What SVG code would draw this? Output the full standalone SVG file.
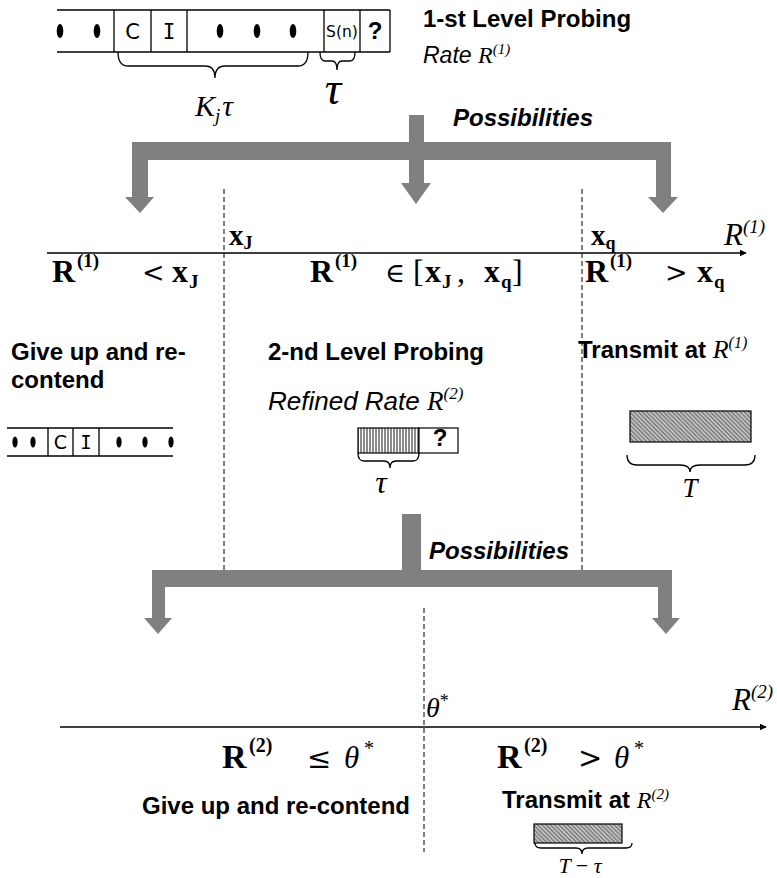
<svg xmlns="http://www.w3.org/2000/svg" width="777" height="878" viewBox="0 0 777 878">
<style>
.lbl{font-family:"Liberation Sans",Arial,sans-serif;font-weight:bold;font-size:24px;fill:#000}
.it{font-family:"Liberation Sans",Arial,sans-serif;font-style:italic;fill:#000}
.poss{font-family:"Liberation Sans",Arial,sans-serif;font-weight:bold;font-style:italic;font-size:24px;fill:#000}
.ser{font-family:"Liberation Serif","Times New Roman",serif;fill:#000}
.sit{font-family:"Liberation Serif","Times New Roman",serif;font-style:italic;fill:#000}
.mb{font-family:"Liberation Serif","Times New Roman",serif;font-weight:bold;fill:#000}
.nw{font-weight:normal}
.rel{font-family:"DejaVu Serif","Liberation Serif",serif;font-weight:normal}
.cell{font-family:"DejaVu Sans",Verdana,sans-serif;fill:#000}
.ln{stroke:#000;stroke-width:1.3;fill:none}
.dash{stroke:#000;stroke-width:1;stroke-dasharray:5 3;fill:none}
.brace{stroke:#000;stroke-width:1.3;fill:none}
.garrow{fill:#808080}
.axis{stroke:#000;stroke-width:1.5;fill:none;marker-end:url(#ah)}
</style>
<defs>
<marker id="ah" viewBox="0 0 10 10" refX="9" refY="5" markerWidth="7" markerHeight="7" markerUnits="userSpaceOnUse" orient="auto"><path d="M0 0 L10 5 L0 10 Z" fill="#000"/></marker>
<pattern id="vh" width="3" height="10" patternUnits="userSpaceOnUse"><rect width="3" height="10" fill="#fff"/><line x1="1" y1="0" x2="1" y2="10" stroke="#000" stroke-width="0.9"/></pattern>
<pattern id="dh" width="3" height="10" patternUnits="userSpaceOnUse" patternTransform="rotate(-45)"><rect width="3" height="10" fill="#d8d8d8"/><line x1="1" y1="0" x2="1" y2="10" stroke="#444" stroke-width="1.1"/></pattern>
</defs>
<rect width="777" height="878" fill="#fff"/>

<g id="connectors">
<path class="garrow" d="M409 115 L424 115 L424 142 L671 142 L671 197 L678 197 L663 213 L648 197 L656 197 L656 160 L424 160 L424 183 L431 183 L416 204 L401 183 L409 183 L409 160 L148 160 L148 197 L154 197 L140 213 L125 197 L132 197 L132 142 L409 142 Z"/>
<path class="garrow" d="M402 514 L421 514 L421 570 L672 570 L672 618 L680 618 L666 634 L652 618 L658 618 L658 587 L165 587 L165 618 L172 618 L158 634 L144 618 L152 618 L152 570 L402 570 Z"/>
<line class="dash" x1="224" y1="189" x2="224" y2="570"/>
<line class="dash" x1="582" y1="189" x2="582" y2="570"/>
<line class="dash" x1="424" y1="608" x2="424" y2="852"/>
<line class="axis" x1="47" y1="253" x2="746" y2="253"/>
<line class="axis" x1="60" y1="727" x2="766" y2="727"/>
</g>

<g id="top-sequence">
<line class="ln" x1="57" y1="10" x2="390" y2="10"/>
<line class="ln" x1="57" y1="52" x2="390" y2="52"/>
<line class="ln" x1="114" y1="10" x2="114" y2="52"/>
<line class="ln" x1="151" y1="10" x2="151" y2="52"/>
<line class="ln" x1="187" y1="10" x2="187" y2="52"/>
<line class="ln" x1="324" y1="10" x2="324" y2="52" stroke-width="2.2"/>
<line class="ln" x1="360" y1="10" x2="360" y2="52"/>
<line class="ln" x1="390" y1="10" x2="390" y2="52"/>
<ellipse cx="60" cy="31" rx="3.3" ry="7"/>
<ellipse cx="97" cy="31" rx="3.3" ry="7"/>
<ellipse cx="220" cy="31" rx="3.3" ry="7"/>
<ellipse cx="257" cy="31" rx="3.3" ry="7"/>
<ellipse cx="293" cy="31" rx="3.3" ry="7"/>
<text class="cell" x="132.5" y="39" font-size="21" text-anchor="middle">C</text>
<text x="169" y="39" font-size="21" text-anchor="middle" font-family="DejaVu Sans Mono,monospace">I</text>
<text class="cell" x="342" y="37" font-size="15.5" text-anchor="middle">S(n)</text>
<text class="lbl" x="375" y="39" font-size="21" text-anchor="middle">?</text>
<path class="brace" d="M118 52 Q118 66 128 66 L205 66 Q215 66 215 78 Q215 66 225 66 L298 66 Q308 66 308 52"/>
<path class="brace" d="M320 52 Q320 61 325 61 L332 61 Q337 61 337 70 Q337 61 342 61 L350 61 Q355 61 355 52"/>
<text class="sit" x="195" y="116" font-size="30">K<tspan font-size="19" dy="6">j</tspan><tspan dy="-6" dx="2">τ</tspan></text>
<text class="sit" x="333" y="104" font-size="46" text-anchor="middle">τ</text>
</g>

<g id="level1">
<text class="lbl" x="423" y="27">1-st Level Probing</text>
<text class="it" x="423" y="63" font-size="23">Rate <tspan class="sit" font-size="24">R</tspan><tspan class="sit" font-size="15" dy="-9">(1)</tspan></text>
<text class="poss" x="453" y="126">Possibilities</text>
</g>

<g id="axis1-labels">
<text class="mb" x="229" y="245" font-size="29">x<tspan font-size="18" dy="4">J</tspan></text>
<text class="mb" x="591" y="245" font-size="29">x<tspan font-size="18" dy="4">q</tspan></text>
<text class="sit" x="724" y="245" font-size="31">R<tspan font-size="19" dy="-12">(1)</tspan></text>
</g>

<g id="cond1">
<text class="mb" font-size="32" y="282"><tspan x="52">R</tspan><tspan x="77" y="267" font-size="19">(1)</tspan><tspan x="142" y="282" class="rel" font-size="27">&lt;</tspan><tspan x="172" y="282">x</tspan><tspan x="189" y="288" font-size="19">J</tspan></text>
<text class="mb" font-size="32" y="282"><tspan x="310">R</tspan><tspan x="335" y="267" font-size="19">(1)</tspan><tspan x="385" y="282" class="rel" font-size="27">∈</tspan><tspan x="413" y="282" class="nw">[</tspan><tspan x="425" y="282">x</tspan><tspan x="442" y="288" font-size="19">J</tspan><tspan x="457" y="282" class="nw">,</tspan><tspan x="484" y="282">x</tspan><tspan x="501" y="288" font-size="19">q</tspan><tspan x="512" y="282" class="nw">]</tspan></text>
<text class="mb" font-size="32" y="282"><tspan x="585">R</tspan><tspan x="610" y="267" font-size="19">(1)</tspan><tspan x="665" y="282" class="rel" font-size="27">&gt;</tspan><tspan x="697" y="282">x</tspan><tspan x="714" y="288" font-size="19">q</tspan></text>
</g>

<g id="giveup1">
<text class="lbl" x="11" y="360">Give up and re-</text>
<text class="lbl" x="11" y="388">contend</text>
<line class="ln" x1="7" y1="428" x2="173" y2="428"/>
<line class="ln" x1="7" y1="456" x2="173" y2="456"/>
<line class="ln" x1="48" y1="428" x2="48" y2="456"/>
<line class="ln" x1="73" y1="428" x2="73" y2="456"/>
<line class="ln" x1="99" y1="428" x2="99" y2="456"/>
<ellipse cx="15" cy="442" rx="2.6" ry="5.5"/>
<ellipse cx="33" cy="442" rx="2.6" ry="5.5"/>
<ellipse cx="119" cy="442" rx="2.6" ry="5.5"/>
<ellipse cx="145" cy="442" rx="2.6" ry="5.5"/>
<ellipse cx="171" cy="442" rx="2.6" ry="5.5"/>
<text class="cell" x="60.5" y="449" font-size="19" text-anchor="middle">C</text>
<text x="86" y="449" font-size="19" text-anchor="middle" font-family="DejaVu Sans Mono,monospace">I</text>
</g>

<g id="level2">
<text class="lbl" x="268" y="360">2-nd Level Probing</text>
<text class="it" x="268" y="410" font-size="26">Refined Rate <tspan class="sit" font-size="27">R</tspan><tspan class="sit" font-size="17" dy="-11">(2)</tspan></text>
<rect x="358" y="428" width="61" height="25" fill="url(#vh)" stroke="#000" stroke-width="1.2"/>
<rect x="419" y="428" width="39" height="25" fill="#fff" stroke="#000" stroke-width="1.2"/>
<text class="lbl" x="440" y="446" font-size="17" text-anchor="middle">?</text>
<path class="brace" d="M358 453 Q358 461 364 461 L384 461 Q390 461 390 468 Q390 461 396 461 L413 461 Q419 461 419 453"/>
<text class="sit" x="381" y="493" font-size="32" text-anchor="middle">τ</text>
</g>

<g id="transmit1">
<text class="lbl" x="578" y="358">Transmit at <tspan class="sit nw" font-size="26">R</tspan><tspan class="sit nw" font-size="16" dy="-10">(1)</tspan></text>
<rect x="630" y="411" width="121" height="31" fill="url(#dh)" stroke="#000" stroke-width="1.2"/>
<path class="brace" d="M627 455 Q627 465 637 465 L680 465 Q690 465 690 472 Q690 465 700 465 L745 465 Q755 465 755 455"/>
<text class="sit" x="690" y="497" font-size="27" text-anchor="middle">T</text>
</g>

<g id="level2-poss">
<text class="poss" x="429" y="559">Possibilities</text>
</g>

<g id="axis2-labels">
<text class="sit" x="426" y="717" font-size="28">θ<tspan class="ser" font-style="normal" font-size="18" dy="-10">*</tspan></text>
<text class="sit" x="732" y="710" font-size="31">R<tspan font-size="19" dy="-12">(2)</tspan></text>
</g>

<g id="cond2">
<text class="mb" font-size="34" y="768"><tspan x="222">R</tspan><tspan x="249" y="752" font-size="20">(2)</tspan><tspan x="307" y="768" class="rel" font-size="29">≤</tspan><tspan x="344" y="768" class="nw" font-style="italic" font-size="31">θ</tspan><tspan x="364" y="755" class="nw" font-size="20">*</tspan></text>
<text class="mb" font-size="34" y="768"><tspan x="497">R</tspan><tspan x="524" y="752" font-size="20">(2)</tspan><tspan x="578" y="768" class="rel" font-size="29">&gt;</tspan><tspan x="614" y="768" class="nw" font-style="italic" font-size="31">θ</tspan><tspan x="634" y="755" class="nw" font-size="20">*</tspan></text>
</g>

<g id="giveup2">
<text class="lbl" x="142" y="814">Give up and re-contend</text>
</g>

<g id="transmit2">
<text class="lbl" x="502" y="808">Transmit at <tspan class="sit nw" font-size="24">R</tspan><tspan class="sit nw" font-size="15" dy="-9">(2)</tspan></text>
<rect x="534" y="824" width="88" height="19" fill="url(#dh)" stroke="#000" stroke-width="1.2"/>
<path class="brace" d="M535 843 Q535 848 541 848 L576 848 Q582 848 582 854 Q582 848 588 848 L626 848 Q632 848 632 843"/>
<text class="sit" x="580" y="873" font-size="22" text-anchor="middle">T <tspan class="ser" font-style="normal">−</tspan> τ</text>
</g>
</svg>
